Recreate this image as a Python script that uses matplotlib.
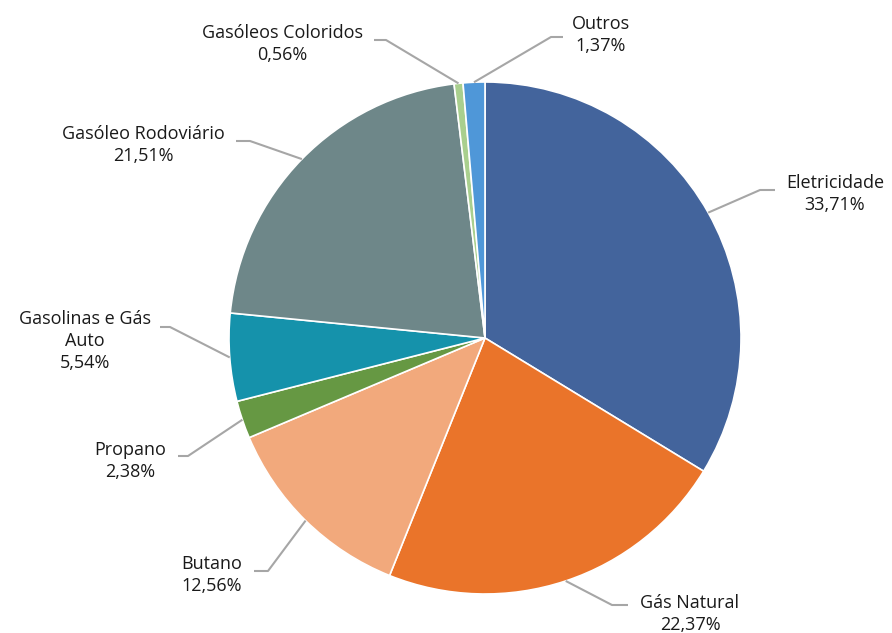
import numpy as np
import matplotlib.pyplot as plt

plt.rcParams['font.family'] = ['Open Sans', 'DejaVu Sans']

# dados
categorias = ["Eletricidade", "Gás Natural", "Butano", "Propano",
              "Gasolinas e Gás\nAuto", "Gasóleo Rodoviário",
              "Gasóleos Coloridos", "Outros"]
valores = [33.71, 22.37, 12.56, 2.38, 5.54, 21.51, 0.56, 1.37]
cores = ["#43649C", "#EA742A", "#F2A97C", "#669843",
         "#1592AB", "#6E8789", "#A9CF8E", "#4F97D8"]

# posições dos rótulos (pixels: texto, cotovelo, fim da linha)
rotulos_pos = [
    ((835, 194), (760, 190), (775, 190)),
    ((690, 614), (612, 605), (628, 605)),
    ((212, 575), (268, 571), (254, 571)),
    ((130, 461), (188, 456), (178, 456)),
    ((85, 341), (170, 327), (160, 327)),
    ((143, 145), (250, 141), (236, 141)),
    ((282, 44), (386, 40), (374, 40)),
    ((601, 35), (551, 37), (563, 37)),
]

W, H = 892, 633
cx, cy, R = 485, H - 338, 256

fig = plt.figure(figsize=(W / 100, H / 100), dpi=100)
ax = fig.add_axes([0, 0, 1, 1])

wedges, _ = ax.pie(valores, colors=cores, startangle=90, counterclock=False,
                   center=(cx, cy), radius=R, frame=True,
                   wedgeprops=dict(edgecolor='white', linewidth=1.2))
ax.set_xlim(0, W)
ax.set_ylim(0, H)
ax.set_aspect('equal')
ax.axis('off')

for w, nome, val, (tp, cot, fim) in zip(wedges, categorias, valores, rotulos_pos):
    ang = np.deg2rad((w.theta1 + w.theta2) / 2)
    x0 = cx + R * np.cos(ang)
    y0 = cy + R * np.sin(ang)
    xs = [x0, cot[0], fim[0]]
    ys = [y0, H - cot[1], H - fim[1]]
    ax.plot(xs, ys, color='#A6A6A6', lw=1.5, solid_capstyle='butt')
    txt = f"{nome}\n{val:.2f}%".replace('.', ',')
    ax.text(tp[0], H - tp[1], txt, ha='center', va='center',
            fontsize=13, color='#1a1a1a', linespacing=1.3)

fig.savefig('out.png', dpi=100)
